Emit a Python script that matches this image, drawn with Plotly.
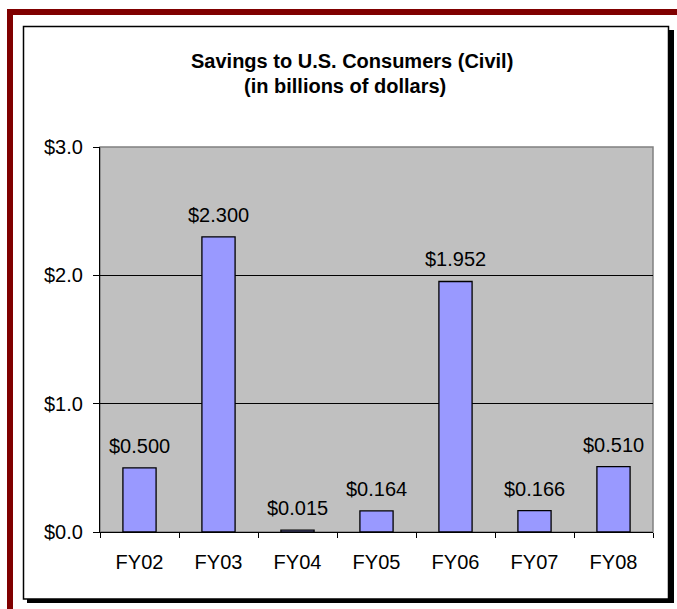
import plotly.graph_objects as go

categories = ["FY02", "FY03", "FY04", "FY05", "FY06", "FY07", "FY08"]
savings = [0.500, 2.300, 0.015, 0.164, 1.952, 0.166, 0.510]
title_lines = ["Savings to U.S. Consumers (Civil)", "(in billions of dollars)"]

FIG_W, FIG_H = 677, 609
L, R, T, B = 100, 653, 147, 532
W, H = R - L, B - T


def px(x):
    return (x - L) / W


def py(y):
    return (B - y) / H


FONT = "Liberation Sans, Arial, sans-serif"

fig = go.Figure()
fig.add_trace(go.Bar(
    x=categories, y=savings,
    marker=dict(color="#9999FF", line=dict(color="black", width=1.3)),
    hoverinfo="skip",
))

shapes = [
    dict(type="rect", xref="paper", yref="paper", x0=px(7), x1=px(13), y0=py(615), y1=py(9),
         fillcolor="#800000", line=dict(width=0), layer="below"),
    dict(type="rect", xref="paper", yref="paper", x0=px(7), x1=px(690), y0=py(15), y1=py(9),
         fillcolor="#800000", line=dict(width=0), layer="below"),
    dict(type="rect", xref="paper", yref="paper", x0=px(27), x1=px(674), y0=py(603), y1=py(30),
         fillcolor="black", line=dict(width=0), layer="below"),
    dict(type="rect", xref="paper", yref="paper", x0=px(23.5), x1=px(668.5), y0=py(599), y1=py(26.5),
         fillcolor="white", line=dict(color="black", width=1.5), layer="below"),
    dict(type="rect", xref="paper", yref="paper", x0=0, x1=1, y0=0, y1=1,
         fillcolor="#C0C0C0", line=dict(color="#808080", width=1.5), layer="below"),
]

annotations = []
for c, v in zip(categories, savings):
    annotations.append(dict(
        x=c, y=v, xref="x", yref="y", text=f"${v:.3f}", showarrow=False,
        yanchor="bottom", yshift=9, font=dict(family=FONT, size=20, color="black"),
    ))
annotations.append(dict(x=px(352), y=py(61), xref="paper", yref="paper", text=f"<b>{title_lines[0]}</b>",
                        showarrow=False, xanchor="center", yanchor="middle",
                        font=dict(family=FONT, size=20, color="black")))
annotations.append(dict(x=px(345), y=py(86), xref="paper", yref="paper", text=f"<b>{title_lines[1]}</b>",
                        showarrow=False, xanchor="center", yanchor="middle",
                        font=dict(family=FONT, size=20, color="black")))

fig.update_layout(
    width=FIG_W, height=FIG_H,
    margin=dict(l=L, r=FIG_W - R, t=T, b=FIG_H - B, autoexpand=False),
    paper_bgcolor="white", plot_bgcolor="rgba(0,0,0,0)",
    bargap=0.58, showlegend=False,
    shapes=shapes, annotations=annotations,
    font=dict(family=FONT, size=20, color="black"),
    xaxis=dict(
        showline=True, linecolor="black", linewidth=1.3,
        ticks="outside", ticklen=5, tickcolor="black", tickson="boundaries",
        showgrid=False, tickfont=dict(family=FONT, size=20, color="black"),
        ticklabelstandoff=12, fixedrange=True,
    ),
    yaxis=dict(
        range=[0, 3], dtick=1, tickprefix="$", tickformat=".1f",
        showline=True, linecolor="black", linewidth=1.3,
        ticks="outside", ticklen=6, tickcolor="black",
        showgrid=True, gridcolor="black", gridwidth=1, zeroline=False,
        tickfont=dict(family=FONT, size=20, color="black"),
        ticklabelstandoff=6, fixedrange=True,
    ),
)

fig.write_html(
    "out.html",
    config={"displayModeBar": False},
    post_script="document.body.style.margin='0';document.body.style.overflow='hidden';",
)
